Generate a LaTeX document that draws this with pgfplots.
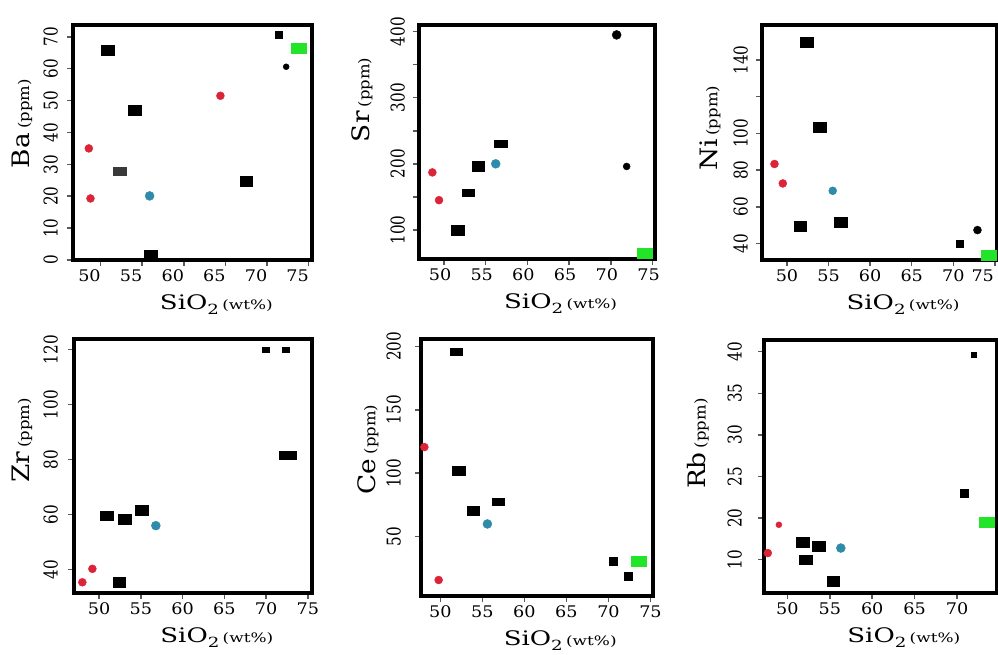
\documentclass[border=0pt]{standalone}
\usepackage{fontspec}
\setmainfont{DejaVu Serif}[FakeStretch=1.1]
\newfontfamily\ytfont{DejaVu Serif}[FakeStretch=0.8]
\newfontfamily\lblfont{DejaVu Serif}[FakeStretch=1.3]
\usepackage{pgfplots}
\pgfplotsset{compat=1.18}
\definecolor{redc}{HTML}{DC2338}
\definecolor{tealc}{HTML}{2E8BAA}
\definecolor{greenc}{HTML}{22E52A}
\definecolor{grayc}{HTML}{3A3A3A}
% rotated y tick label: {x at axis left}{y value}{text}{gap}
\newcommand\yt[4]{\node[font=\ytfont\fontsize{19}{19}\selectfont, rotate=90, anchor=south, inner sep=0pt] at ([xshift=-#4]axis cs:#1,#2) {#3};}
\newcommand\ylab[1]{\fontsize{24}{24}\selectfont #1\,{\fontsize{15}{15}\selectfont (ppm)}}
\newcommand\xlab{\lblfont\fontsize{20}{20}\selectfont SiO\raisebox{-5pt}{\fontsize{14}{14}\selectfont 2}\,{\fontsize{13}{13}\selectfont (wt\%)}}
\pgfplotsset{
  panel/.style={
    scale only axis, axis on top, clip=false,
    axis line style={line width=3.5pt, black},
    tick align=outside, xtick pos=bottom, ytick pos=left,
    major tick length=6pt,
    tick style={line width=1.5pt, black!65},
    xtick={50,55,60,65,70,75},
    /pgf/number format/assume math mode=true,
    xticklabel style={font=\fontsize{16}{16}\selectfont},
    yticklabels={},
    xlabel={\xlab},
    every axis x label/.style={at={(axis description cs:0.6,0)}, anchor=center, yshift=-45pt},
    every axis y label/.style={rotate=90, anchor=center},
  },
  bigsq/.style={only marks, mark=square*, mark size=5.8, mark options={draw=black, fill=black, xscale=1.1, yscale=0.85}},
  bflat/.style={only marks, mark=square*, mark size=6.3, mark options={draw=black, fill=black, yscale=0.55}},
  bsmall/.style={only marks, mark=square*, mark size=3.5, mark options={draw=black, fill=black}},
  bcirc/.style={only marks, mark=*, mark size=3.5, mark options={draw=black, fill=black}},
  redm/.style={only marks, mark=*, mark size=4, mark options={draw=redc, fill=redc}},
  tealm/.style={only marks, mark=*, mark size=4.5, mark options={draw=tealc, fill=tealc}},
  greenm/.style={only marks, mark=square*, mark size=6.3, mark options={draw=greenc, fill=greenc, xscale=1.2, yscale=0.8}},
}
\begin{document}
\begin{tikzpicture}
\useasboundingbox (0pt,0pt) rectangle (998pt,654pt);
% ---------------- Ba
\begin{axis}[panel, at={(73pt,394pt)}, anchor=south west, width=239pt, height=235pt,
  xmin=46.7, xmax=75.4, ymin=0, ymax=73.7, ytick={0,10,...,70},
  xticklabel style={xshift=-11pt},
  ylabel={\ylab{Ba}}, ylabel style={at={([xshift=-51pt]axis description cs:0,0.58)}}]
\addplot[bigsq] coordinates {(50.9,65.8) (54.1,47.0) (56.0,1.6) (67.5,24.8)};
\addplot[only marks, mark=square*, mark size=6.3, mark options={draw=grayc, fill=grayc, yscale=0.65}] coordinates {(52.3,27.9)};
\addplot[bsmall] coordinates {(71.4,70.5)};
\addplot[bcirc, mark size=3] coordinates {(72.3,60.6)};
\addplot[greenm] coordinates {(73.8,66.4)};
\addplot[tealm] coordinates {(55.9,20.1)};
\addplot[redm] coordinates {(48.6,35.0) (48.8,19.3) (64.4,51.5)};
\yt{46.7}{0}{0}{15pt}\yt{46.7}{10}{10}{15pt}\yt{46.7}{20}{20}{15pt}\yt{46.7}{30}{30}{15pt}
\yt{46.7}{40}{40}{15pt}\yt{46.7}{50}{50}{15pt}\yt{46.7}{60}{60}{15pt}\yt{46.7}{70}{70}{15pt}
\end{axis}
% ---------------- Sr
\begin{axis}[panel, at={(419pt,395pt)}, anchor=south west, width=236pt, height=234pt,
  xmin=47.0, xmax=75.3, ymin=56, ymax=410, ytick={100,150,...,400},
  xticklabel style={xshift=-4pt},
  ylabel={\ylab{Sr}}, ylabel style={at={([xshift=-57pt]axis description cs:0,0.68)}}]
\addplot[bigsq] coordinates {(54.1,196) (51.6,100)};
\addplot[bflat] coordinates {(56.8,230) (52.9,156)};
\addplot[bcirc, mark size=4.5] coordinates {(70.7,395)};
\addplot[bcirc] coordinates {(71.9,196)};
\addplot[greenm] coordinates {(74.1,65)};
\addplot[tealm] coordinates {(56.2,200)};
\addplot[redm] coordinates {(48.6,187) (49.4,145)};
\yt{47.0}{100}{100}{14pt}\yt{47.0}{200}{200}{14pt}\yt{47.0}{300}{300}{14pt}\yt{47.0}{400}{400}{14pt}
\end{axis}
% ---------------- Ni
\begin{axis}[panel, at={(762pt,394pt)}, anchor=south west, width=235pt, height=235pt,
  xmin=47.0, xmax=75.25, ymin=31, ymax=159, ytick={40,60,...,140},
  xticklabels={50,55,60,65,70,\makebox[0pt][r]{75\hspace{1pt}}},
  ylabel={\ylab{Ni}}, ylabel style={at={([xshift=-52pt]axis description cs:0,0.56)}}]
\addplot[bigsq] coordinates {(52.4,149.6) (53.9,103.3) (51.6,49.4) (56.5,51.8)};
\addplot[bsmall] coordinates {(70.8,40)};
\addplot[bcirc, mark size=4] coordinates {(72.9,47.3)};
\addplot[greenm] coordinates {(74.2,33.6)};
\addplot[tealm, mark size=4] coordinates {(55.5,68.7)};
\addplot[redm] coordinates {(48.5,83.3) (49.5,72.7)};
\yt{47.0}{40}{40}{14pt}\yt{47.0}{60}{60}{14pt}\yt{47.0}{80}{80}{14pt}\yt{47.0}{100}{100}{14pt}\yt{47.0}{140}{140}{14pt}
\end{axis}
% ---------------- Zr
\begin{axis}[panel, at={(74pt,61pt)}, anchor=south west, width=238pt, height=254pt,
  xmin=47.0, xmax=75.5, ymin=31.5, ymax=123.9, ytick={40,60,...,120},
  ylabel={\ylab{Zr}}, ylabel style={at={([xshift=-52pt]axis description cs:0,0.6)}}]
\addplot[bigsq] coordinates {(50.9,59.6) (53.1,58.4) (55.1,61.6) (52.4,35.4)};
\addplot[bsmall, mark options={yscale=0.85}] coordinates {(70.0,120) (72.3,120)};
\addplot[greenm, mark options={xscale=1.35, yscale=0.7}] coordinates {(72.6,81.6)};
\addplot[tealm] coordinates {(56.8,56)};
\addplot[redm] coordinates {(49.2,40.3) (48.0,35.4)};
\yt{47.0}{40}{40}{16pt}\yt{47.0}{60}{60}{16pt}\yt{47.0}{80}{80}{16pt}\yt{47.0}{100}{100}{16pt}\yt{47.0}{120}{120}{16pt}
\end{axis}
% ---------------- Ce
\begin{axis}[panel, at={(421pt,58pt)}, anchor=south west, width=232pt, height=257pt,
  xmin=47.7, xmax=75.3, ymin=3.2, ymax=205.8, ytick={50,100,150,200},
  ylabel={\ylab{Ce}}, ylabel style={at={([xshift=-53pt]axis description cs:0,0.57)}}]
\addplot[bigsq] coordinates {(52.2,102) (53.9,70.5)};
\addplot[bflat] coordinates {(51.9,196) (56.9,77.6)};
\addplot[bsmall, mark size=4] coordinates {(70.6,31) (72.4,19)};
\addplot[greenm] coordinates {(73.6,30.3)};
\addplot[tealm] coordinates {(55.6,60)};
\addplot[redm] coordinates {(48.1,120.6) (49.8,15.8)};
\yt{47.7}{50}{50}{20pt}\yt{47.7}{100}{100}{20pt}\yt{47.7}{150}{150}{20pt}\yt{47.7}{200}{200}{20pt}
\end{axis}
% ---------------- Rb
\begin{axis}[panel, at={(764pt,61pt)}, anchor=south west, width=233pt, height=253pt,
  xmin=47.25, xmax=74.7, ymin=11.0, ymax=41.4, ytick={15,20,...,40},
  xticklabels={50,55,60,65,70,\makebox[0pt][r]{75\hspace{1pt}}},
  ylabel={\ylab{Rb}}, ylabel style={at={([xshift=-66pt]axis description cs:0,0.59)}}]
\addplot[bigsq] coordinates {(51.8,17.1) (53.7,16.6) (52.2,15) (55.4,12.4)};
\addplot[bsmall, mark size=2.5] coordinates {(71.9,39.6)};
\addplot[bsmall, mark size=4] coordinates {(70.8,23)};
\addplot[greenm] coordinates {(73.5,19.5)};
\addplot[tealm] coordinates {(56.3,16.4)};
\addplot[redm, mark size=3] coordinates {(49.0,19.2)};
\addplot[redm] coordinates {(47.7,15.8)};
\yt{47.25}{15}{10}{22pt}\yt{47.25}{20}{20}{22pt}\yt{47.25}{25}{25}{22pt}\yt{47.25}{30}{30}{22pt}\yt{47.25}{35}{35}{22pt}\yt{47.25}{40}{40}{22pt}
\end{axis}
\end{tikzpicture}
\end{document}
